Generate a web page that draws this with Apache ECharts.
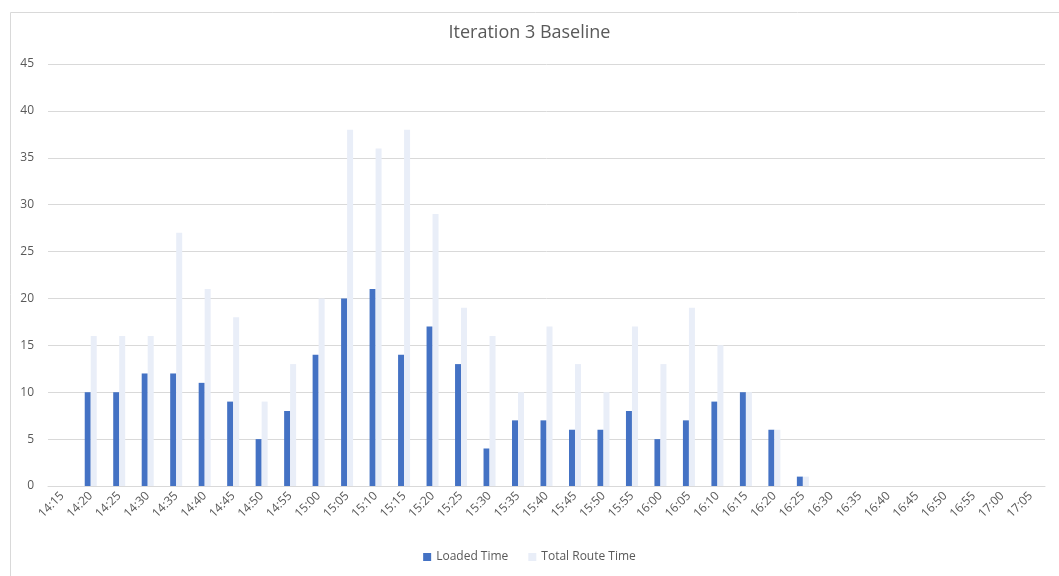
<!DOCTYPE html>
<html>
<head>
<meta charset="utf-8">
<title>Iteration 3 Baseline</title>
<script src="https://cdn.jsdelivr.net/npm/echarts@6/dist/echarts.min.js"></script>
</head>
<body style="margin:0">
<div id="container" style="width:1059px;height:576px"></div>
<script>
var times = ['14:15','14:20','14:25','14:30','14:35','14:40','14:45','14:50','14:55','15:00',
  '15:05','15:10','15:15','15:20','15:25','15:30','15:35','15:40','15:45','15:50',
  '15:55','16:00','16:05','16:10','16:15','16:20','16:25','16:30','16:35','16:40',
  '16:45','16:50','16:55','17:00','17:05'];
var loadedTime = [null,10,10,12,12,11,9,5,8,14,20,21,14,17,13,4,7,7,6,6,8,5,7,9,10,6,1,
  null,null,null,null,null,null,null,null];
var totalRouteTime = [null,16,16,16,27,21,18,9,13,20,38,36,38,29,19,16,10,17,13,10,17,13,19,15,10,6,1,
  null,null,null,null,null,null,null,null];

var chart = echarts.init(document.getElementById('container'));
var txt = '#595959';
chart.setOption({
  animation: false,
  textStyle: { fontFamily: 'Open Sans' },
  graphic: [{
    type: 'rect',
    shape: { x: 10.5, y: 12.5, width: 1060, height: 580 },
    style: { fill: 'none', stroke: '#d9d9d9', lineWidth: 1 }
  }],
  title: {
    text: 'Iteration 3 Baseline',
    left: 'center',
    top: 19,
    textStyle: { fontSize: 18, fontWeight: 'normal', color: txt, fontFamily: 'Open Sans' }
  },
  legend: {
    bottom: 8,
    left: 'center',
    icon: 'rect',
    itemWidth: 8,
    itemHeight: 8,
    itemGap: 20,
    textStyle: { fontSize: 12, color: txt },
    data: ['Loaded Time', 'Total Route Time']
  },
  grid: { left: 48, right: 14, top: 64, bottom: 90 },
  xAxis: {
    type: 'category',
    data: times,
    axisTick: { show: false },
    axisLine: { lineStyle: { color: '#d9d9d9' } },
    axisLabel: { rotate: 45, color: txt, fontSize: 12, interval: 0, margin: 8 }
  },
  yAxis: {
    type: 'value',
    min: 0,
    max: 45,
    interval: 5,
    axisLine: { show: false },
    axisTick: { show: false },
    splitLine: { lineStyle: { color: '#d9d9d9' } },
    axisLabel: { color: txt, fontSize: 12, margin: 14 }
  },
  series: [{
    name: 'Loaded Time',
    type: 'bar',
    data: loadedTime,
    barWidth: 6,
    barGap: '0%',
    itemStyle: { color: '#4472c4' }
  }, {
    name: 'Total Route Time',
    type: 'bar',
    data: totalRouteTime,
    barWidth: 6,
    itemStyle: { color: '#e9eef8' }
  }]
});
</script>
</body>
</html>
